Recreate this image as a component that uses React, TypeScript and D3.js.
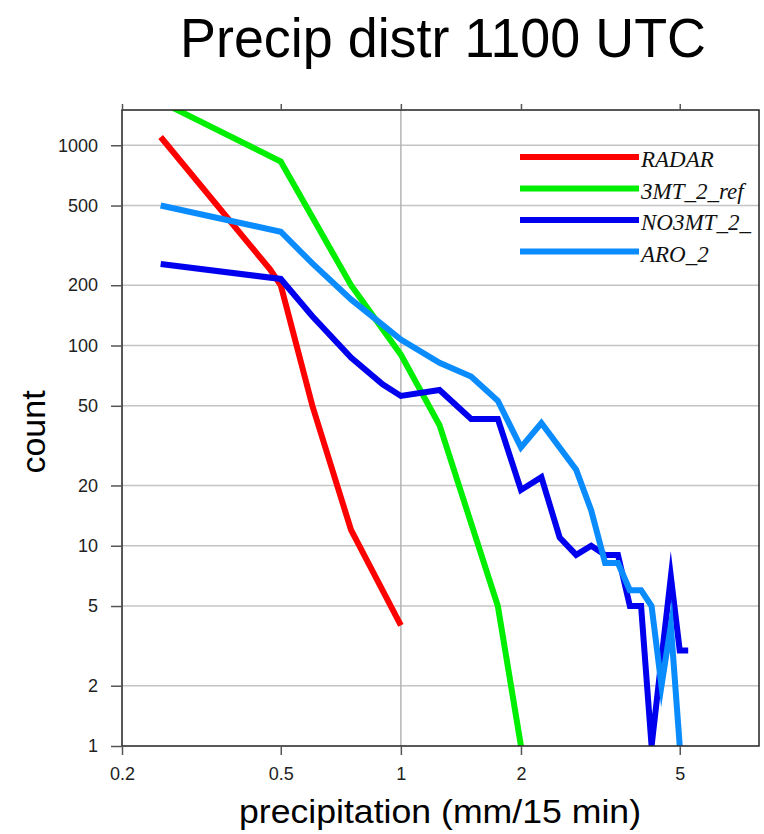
import { useEffect, useRef } from "react"
import * as d3 from "d3"

// values (x in mm/15 min, y = count)
const radarX = [0.25, 0.47, 0.5, 0.6, 0.75, 1.0]
const radarY = [1100, 240, 200, 50, 12, 4]

const ref3mtX = [0.25, 0.5, 0.75, 1.0, 1.25, 1.75, 2.0]
const ref3mtY = [1650, 830, 200, 90, 40, 5, 1]

const no3mtX = [0.25, 0.5, 0.6, 0.75, 0.9, 1.0, 1.25, 1.5, 1.75, 2.0, 2.25, 2.5, 2.75, 3.0, 3.25, 3.5, 3.75, 4.0, 4.25, 4.75, 5.0, 5.25]
const no3mtY = [255, 215, 140, 87, 64, 56, 60, 43, 43, 19, 22, 11, 9, 10, 9, 9, 5, 5, 1, 7, 3, 3]

const aroX = [0.25, 0.5, 0.6, 0.75, 1.0, 1.25, 1.5, 1.75, 2.0, 2.25, 2.75, 3.0, 3.25, 3.5, 3.75, 4.0, 4.25, 4.5, 4.75, 5.0]
const aroY = [500, 370, 257, 170, 107, 82, 70, 53, 31, 41, 24, 15, 8.2, 8.2, 6, 6, 5, 2, 4, 1]

// legend labels as far as they show inside the frame
const seriesNames = ["RADAR", "3MT_2_ref", "NO3MT_2_", "ARO_2"]
const seriesColors = ["#ff0000", "#00ee00", "#0000ee", "#0a8cff"]

const xTicks = [0.2, 0.5, 1, 2, 5]
const yTicks = [1, 2, 5, 10, 20, 50, 100, 200, 500, 1000]
const xGrid = [1]

const App = () => {
  const svgRef = useRef<SVGSVGElement>(null)

  useEffect(() => {
    const width = 764
    const height = 834
    const margin = { top: 110, right: 5, bottom: 88, left: 122 }
    const innerW = width - margin.left - margin.right
    const innerH = height - margin.top - margin.bottom

    const svg = d3.select(svgRef.current)
    svg.selectAll("*").remove()

    const x = d3.scaleLog().domain([0.2, 7.9]).range([0, innerW])
    const y = d3.scaleLog().domain([1, 1500]).range([innerH, 0])

    const series = [
      { xs: radarX, ys: radarY },
      { xs: ref3mtX, ys: ref3mtY },
      { xs: no3mtX, ys: no3mtY },
      { xs: aroX, ys: aroY },
    ].map((s, i) => ({
      name: seriesNames[i],
      color: seriesColors[i],
      points: s.xs.map((v, j) => [v, s.ys[j]] as [number, number]),
    }))

    svg.append("defs")
      .append("clipPath")
      .attr("id", "plotClip")
      .append("rect")
      .attr("width", innerW)
      .attr("height", innerH)

    const g = svg.append("g").attr("transform", `translate(${margin.left},${margin.top})`)

    // grid
    g.selectAll(".hgrid")
      .data(yTicks.filter(t => t > 1))
      .enter()
      .append("line")
      .attr("x1", 0)
      .attr("x2", innerW)
      .attr("y1", d => y(d))
      .attr("y2", d => y(d))
      .attr("stroke", "#c4c4c4")
      .attr("stroke-width", 1.5)

    g.selectAll(".vgrid")
      .data(xGrid)
      .enter()
      .append("line")
      .attr("x1", d => x(d))
      .attr("x2", d => x(d))
      .attr("y1", 0)
      .attr("y2", innerH)
      .attr("stroke", "#b4b4b4")
      .attr("stroke-width", 1.5)

    // lines
    const line = d3.line<[number, number]>()
      .x(d => x(d[0]))
      .y(d => y(d[1]))

    const plot = g.append("g").attr("clip-path", "url(#plotClip)")
    plot.selectAll(".series")
      .data(series)
      .enter()
      .append("path")
      .attr("fill", "none")
      .attr("stroke", d => d.color)
      .attr("stroke-width", 6)
      .attr("stroke-miterlimit", 12)
      .attr("d", d => line(d.points))

    // legend
    const legend = g.selectAll(".legend")
      .data(series)
      .enter()
      .append("g")
      .attr("transform", (d, i) => `translate(0, ${47 + i * 31.5})`)

    legend.append("line")
      .attr("x1", 398)
      .attr("x2", 517)
      .attr("stroke", d => d.color)
      .attr("stroke-width", 6)

    legend.append("text")
      .attr("x", 519)
      .attr("y", 10)
      .attr("font-family", "'Liberation Serif', 'DejaVu Serif', serif")
      .attr("font-style", "italic")
      .attr("font-size", 23)
      .attr("fill", "#111")
      .text(d => d.name)

    // frame
    g.append("rect")
      .attr("width", innerW)
      .attr("height", innerH)
      .attr("fill", "none")
      .attr("stroke", "#222")
      .attr("stroke-width", 1.5)

    // axes
    const font = "'Liberation Sans', Arial, sans-serif"
    const xAxis = g.append("g")
      .attr("transform", `translate(0, ${innerH})`)
      .call(d3.axisBottom(x).tickValues(xTicks).tickSize(9).tickPadding(12).tickFormat(d3.format("~g")))
    const yAxis = g.append("g")
      .call(d3.axisLeft(y).tickValues(yTicks).tickSize(11).tickPadding(13).tickFormat(d3.format("~g")))
    g.append("g")
      .call(d3.axisTop(x).tickValues(xTicks).tickSize(6).tickFormat(() => ""))
    ;[xAxis, yAxis].forEach(a => {
      a.selectAll(".tick text")
        .attr("font-family", font)
        .attr("font-size", 18)
        .attr("fill", "#222")
    })
    g.selectAll(".tick line").attr("stroke", "#555").attr("stroke-width", 1.5)
    g.selectAll(".domain").remove()

    // titles
    svg.append("text")
      .attr("x", 443)
      .attr("y", 57)
      .attr("text-anchor", "middle")
      .attr("font-family", font)
      .attr("font-size", 55)
      .attr("textLength", 526)
      .attr("lengthAdjust", "spacingAndGlyphs")
      .text("Precip distr 1100 UTC")

    svg.append("text")
      .attr("x", 440)
      .attr("y", 823)
      .attr("text-anchor", "middle")
      .attr("font-family", font)
      .attr("font-size", 34)
      .attr("textLength", 402)
      .attr("lengthAdjust", "spacingAndGlyphs")
      .text("precipitation (mm/15 min)")

    svg.append("text")
      .attr("transform", "translate(45, 432) rotate(-90)")
      .attr("text-anchor", "middle")
      .attr("font-family", font)
      .attr("font-size", 34)
      .text("count")
  }, [])

  return (
    <svg
      ref={svgRef}
      width={764}
      height={834}
      style={{ position: "absolute", left: 0, top: 0, background: "#fff" }}
    />
  )
}

export default App
